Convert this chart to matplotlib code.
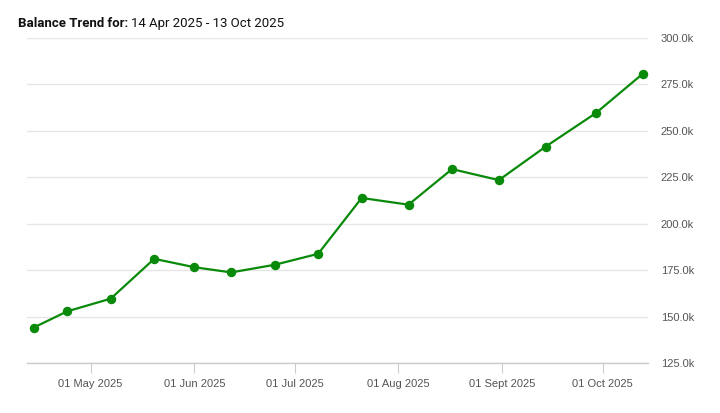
import datetime as dt

import matplotlib
matplotlib.use("Agg")
import matplotlib.pyplot as plt
import matplotlib.dates as mdates
from matplotlib.ticker import FuncFormatter

plt.rcParams['font.family'] = ['Roboto', 'DejaVu Sans']

# balance snapshots
dates = ["2025-04-14", "2025-04-24", "2025-05-07", "2025-05-20", "2025-06-01",
         "2025-06-12", "2025-06-25", "2025-07-08", "2025-07-21", "2025-08-04",
         "2025-08-17", "2025-08-31", "2025-09-14", "2025-09-29", "2025-10-13"]
balance = [144300, 153000, 159800, 181200, 176700,
           173900, 178000, 183900, 213900, 210300,
           229400, 223500, 241500, 259500, 280600]

tick_dates = ["2025-05-01", "2025-06-01", "2025-07-01", "2025-08-01", "2025-09-01", "2025-10-01"]
tick_labels = ["01 May 2025", "01 Jun 2025", "01 Jul 2025", "01 Aug 2025", "01 Sept 2025", "01 Oct 2025"]
y_ticks = [125000, 150000, 175000, 200000, 225000, 250000, 275000, 300000]

x = [dt.datetime.strptime(d, "%Y-%m-%d") for d in dates]
xt = [dt.datetime.strptime(d, "%Y-%m-%d") for d in tick_dates]

fig = plt.figure(figsize=(7.2, 4.13), dpi=100)
ax = fig.add_axes([0.038, 0.120, 0.8624, 0.7887])

ax.plot(x, balance, color="#0a8a0a", linewidth=1.6, marker="o", markersize=5.8, zorder=3)

ax.set_xlim(dt.datetime(2025, 4, 12, 2), dt.datetime(2025, 10, 14, 16))
ax.set_ylim(125000, 300000)
ax.set_yticks(y_ticks)
ax.yaxis.set_major_formatter(FuncFormatter(lambda v, p: "{:.1f}k".format(v / 1000)))
ax.yaxis.tick_right()
ax.tick_params(axis="y", length=0, pad=9, labelsize=8, labelcolor="#555555")

ax.set_xticks([mdates.date2num(d) for d in xt])
ax.set_xticklabels(tick_labels)
ax.tick_params(axis="x", length=7, width=0.8, color="#cccccc", pad=4, labelsize=8, labelcolor="#555555")
for lab in ax.get_xticklabels() + ax.get_yticklabels():
    lab.set_family(["Liberation Sans", "DejaVu Sans"])

ax.grid(axis="y", color="#e6e6e6", linewidth=1)
ax.set_axisbelow(True)
for s in ["top", "left", "right"]:
    ax.spines[s].set_visible(False)
ax.spines["bottom"].set_color("#cccccc")
ax.spines["bottom"].set_linewidth(1)

fig.text(0.025, 0.935, "Balance Trend for:", fontsize=9.5, fontweight="bold", color="#111111")
fig.text(0.182, 0.935, "14 Apr 2025 - 13 Oct 2025", fontsize=9.5, color="#111111")

fig.savefig("out.png", dpi=100)
